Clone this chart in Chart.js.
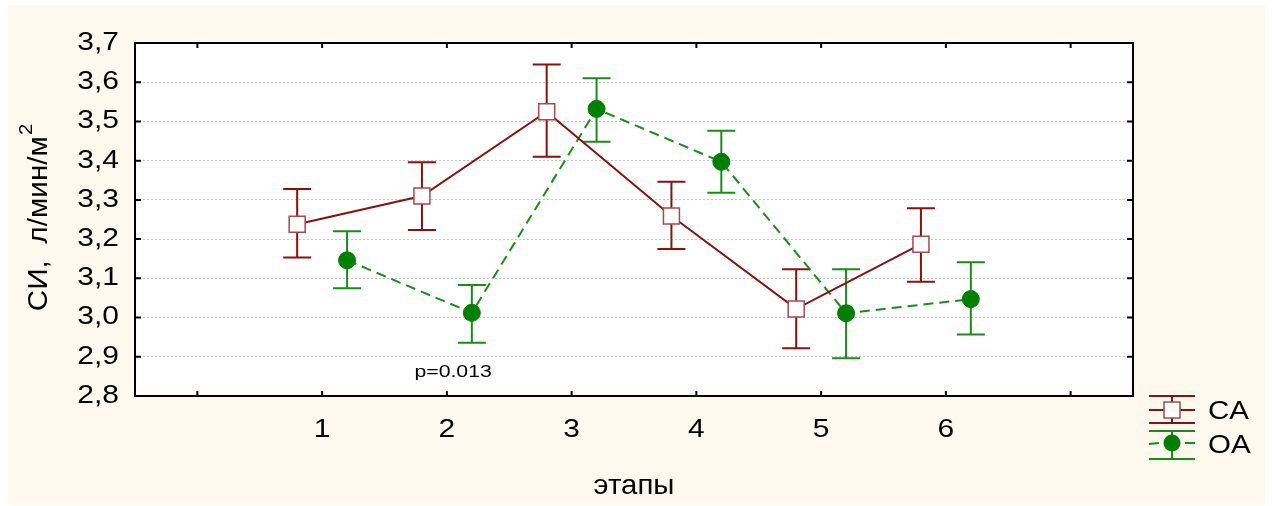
<!DOCTYPE html>
<html>
<head>
<meta charset="utf-8">
<title>СИ по этапам</title>
<script src="https://cdn.jsdelivr.net/npm/chart.js@4.4.1/dist/chart.umd.min.js"></script>
<style>
  html, body { margin: 0; padding: 0; background: #fff; }
  canvas { display: block; }
</style>
</head>
<body>
<canvas id="ciChart" width="1272" height="506"></canvas>
<script>
// Stages on the x axis
var stages = [1, 2, 3, 4, 5, 6];
var stageLabels = ['1', '2', '3', '4', '5', '6'];
var xTickValues = [0, 1, 2, 3, 4, 5, 6, 7];

// CA group: mean and error bar bounds
var caMean = [3.238, 3.310, 3.525, 3.259, 3.022, 3.187];
var caLow  = [3.153, 3.223, 3.410, 3.175, 2.922, 3.091];
var caHigh = [3.328, 3.396, 3.645, 3.346, 3.123, 3.279];

// OA group: mean and error bar bounds
var oaMean = [3.146, 3.012, 3.532, 3.397, 3.011, 3.047];
var oaLow  = [3.075, 2.936, 3.448, 3.318, 2.896, 2.957];
var oaHigh = [3.220, 3.083, 3.610, 3.476, 3.123, 3.141];

// Annotation
var pNote = { text: 'p=0.013', x: 2.05, y: 2.861 };

var FONT = '"Liberation Sans", Arial, sans-serif';
var CA_COLOR = '#8c1010';
var CA_EDGE = '#a84a4a';
var OA_COLOR = '#008000';
var OA_LINE = '#1a8c1a';
var SHIFT = 0.2;   // groups are drawn either side of the stage
var CAP = 14;      // half width of error bar caps
var WIDE = 1.2;    // text is set slightly wide

function points(mean, dx) {
    return mean.map(function(v, i) { return { x: stages[i] + dx, y: v }; });
}

function wideText(ctx, text, x, y, size, sx, align) {
    ctx.save();
    ctx.font = size + 'px ' + FONT;
    ctx.fillStyle = '#000';
    ctx.textAlign = align;
    ctx.textBaseline = 'middle';
    ctx.translate(x, y);
    ctx.scale(sx, 1);
    ctx.fillText(text, 0, 0);
    ctx.restore();
}

function drawBar(ctx, xs, yl, yh, color) {
    ctx.save();
    ctx.strokeStyle = color;
    ctx.lineWidth = 2;
    ctx.beginPath();
    ctx.moveTo(xs, yl); ctx.lineTo(xs, yh);
    ctx.moveTo(xs - CAP, yl); ctx.lineTo(xs + CAP, yl);
    ctx.moveTo(xs - CAP, yh); ctx.lineTo(xs + CAP, yh);
    ctx.stroke();
    ctx.restore();
}

var framePlugin = {
    id: 'frame',
    beforeDraw: function(chart) {
        var ctx = chart.ctx, a = chart.chartArea;
        ctx.save();
        ctx.fillStyle = '#ffffff';
        ctx.fillRect(0, 0, chart.width, chart.height);
        ctx.fillStyle = '#fdf9ee';
        ctx.fillRect(8, 5, 1257, 500);
        ctx.fillStyle = '#ffffff';
        ctx.fillRect(a.left, a.top, a.right - a.left, a.bottom - a.top);
        ctx.restore();
    },
    beforeDatasetsDraw: function(chart) {
        var ctx = chart.ctx, xs = chart.scales.x, ys = chart.scales.y;
        stages.forEach(function(s, i) {
            drawBar(ctx, xs.getPixelForValue(s - SHIFT), ys.getPixelForValue(caLow[i]), ys.getPixelForValue(caHigh[i]), CA_COLOR);
            drawBar(ctx, xs.getPixelForValue(s + SHIFT), ys.getPixelForValue(oaLow[i]), ys.getPixelForValue(oaHigh[i]), OA_LINE);
        });
    },
    afterDraw: function(chart) {
        var ctx = chart.ctx, a = chart.chartArea, xs = chart.scales.x, ys = chart.scales.y;
        ctx.save();

        // frame and inward ticks
        ctx.strokeStyle = '#000';
        ctx.lineWidth = 2;
        ctx.strokeRect(a.left, a.top, a.right - a.left, a.bottom - a.top);
        ctx.beginPath();
        ys.ticks.forEach(function(t) {
            var y = ys.getPixelForValue(t.value);
            ctx.moveTo(a.left, y); ctx.lineTo(a.left + 6, y);
            ctx.moveTo(a.right, y); ctx.lineTo(a.right - 6, y);
        });
        xs.ticks.forEach(function(t) {
            var x = xs.getPixelForValue(t.value);
            ctx.moveTo(x, a.top); ctx.lineTo(x, a.top + 5);
            ctx.moveTo(x, a.bottom); ctx.lineTo(x, a.bottom - 5);
        });
        ctx.stroke();

        // tick labels
        ys.ticks.forEach(function(t) {
            wideText(ctx, t.value.toFixed(1).replace('.', ','), a.left - 16, ys.getPixelForValue(t.value), 25, WIDE, 'right');
        });
        stages.forEach(function(s, i) {
            wideText(ctx, stageLabels[i], xs.getPixelForValue(s), a.bottom + 34, 26, 1.15, 'center');
        });

        // p value note
        wideText(ctx, pNote.text, xs.getPixelForValue(pNote.x), ys.getPixelForValue(pNote.y), 17, 1.25, 'center');

        // x title
        wideText(ctx, 'этапы', 634, 486, 28, 1.05, 'center');

        // y title with superscript
        ctx.translate(39, 218);
        ctx.rotate(-Math.PI / 2);
        ctx.scale(1.06, 1);
        var main = 'СИ,  л/мин/м';
        ctx.fillStyle = '#000';
        ctx.textBaseline = 'middle';
        ctx.font = '28px ' + FONT;
        var w1 = ctx.measureText(main).width;
        ctx.font = '19px ' + FONT;
        var w2 = ctx.measureText('2').width;
        var x0 = -(w1 + w2) / 2;
        ctx.textAlign = 'left';
        ctx.font = '28px ' + FONT;
        ctx.fillText(main, x0, 0);
        ctx.font = '19px ' + FONT;
        ctx.fillText('2', x0 + w1 + 1, -12);
        ctx.setTransform(1, 0, 0, 1, 0, 0);

        // legend
        var lx = 1172;
        ctx.strokeStyle = CA_COLOR;
        ctx.lineWidth = 2;
        ctx.beginPath();
        ctx.moveTo(lx, 396); ctx.lineTo(lx, 423);
        ctx.moveTo(lx - CAP - 9, 410); ctx.lineTo(lx + CAP + 9, 410);
        ctx.moveTo(lx - CAP - 9, 396); ctx.lineTo(lx + CAP + 9, 396);
        ctx.moveTo(lx - CAP - 9, 423); ctx.lineTo(lx + CAP + 9, 423);
        ctx.stroke();
        ctx.fillStyle = '#fff';
        ctx.fillRect(lx - 8, 402, 16, 16);
        ctx.strokeStyle = CA_EDGE;
        ctx.lineWidth = 1.5;
        ctx.strokeRect(lx - 8, 402, 16, 16);

        ctx.strokeStyle = OA_LINE;
        ctx.lineWidth = 2;
        ctx.beginPath();
        ctx.moveTo(lx - CAP - 9, 431); ctx.lineTo(lx + CAP + 9, 431);
        ctx.moveTo(lx - CAP - 9, 459); ctx.lineTo(lx + CAP + 9, 459);
        ctx.moveTo(lx, 431); ctx.lineTo(lx, 459);
        ctx.moveTo(lx - CAP - 9, 444); ctx.lineTo(lx - CAP + 1, 443);
        ctx.moveTo(lx + CAP - 1, 443); ctx.lineTo(lx + CAP + 9, 443);
        ctx.stroke();
        ctx.fillStyle = OA_COLOR;
        ctx.beginPath();
        ctx.arc(lx, 443, 8.5, 0, Math.PI * 2);
        ctx.fill();
        ctx.restore();

        wideText(ctx, 'CA', 1208, 412, 25, 1.18, 'left');
        wideText(ctx, 'OA', 1208, 446, 25, 1.18, 'left');
    }
};

new Chart(document.getElementById('ciChart'), {
    type: 'scatter',
    data: {
        datasets: [{
            label: 'CA',
            data: points(caMean, -SHIFT),
            showLine: true,
            borderColor: CA_COLOR,
            borderWidth: 2,
            pointStyle: 'rect',
            pointRadius: 11.3,
            pointBackgroundColor: '#fff',
            pointBorderColor: CA_EDGE,
            pointBorderWidth: 1.5
        }, {
            label: 'OA',
            data: points(oaMean, SHIFT),
            showLine: true,
            borderColor: OA_LINE,
            borderWidth: 2,
            borderDash: [10, 6],
            pointStyle: 'circle',
            pointRadius: 8.5,
            pointBackgroundColor: OA_COLOR,
            pointBorderColor: OA_COLOR,
            pointBorderWidth: 1
        }]
    },
    options: {
        responsive: false,
        animation: false,
        layout: { padding: { top: 43, right: 139, left: 0, bottom: 0 } },
        plugins: {
            legend: { display: false },
            tooltip: { enabled: false }
        },
        scales: {
            x: {
                type: 'linear',
                min: -0.5,
                max: 7.5,
                afterBuildTicks: function(s) {
                    s.ticks = xTickValues.map(function(v) { return { value: v }; });
                },
                afterFit: function(s) { s.height = 110; },
                grid: { display: false },
                border: { display: false },
                ticks: { display: false }
            },
            y: {
                min: 2.8,
                max: 3.7,
                afterFit: function(s) { s.width = 135; },
                grid: { color: '#c4c4c4', lineWidth: 1, drawTicks: false },
                border: { display: false, dash: [2, 2] },
                ticks: { display: false, stepSize: 0.1 }
            }
        }
    },
    plugins: [framePlugin]
});
</script>
</body>
</html>
